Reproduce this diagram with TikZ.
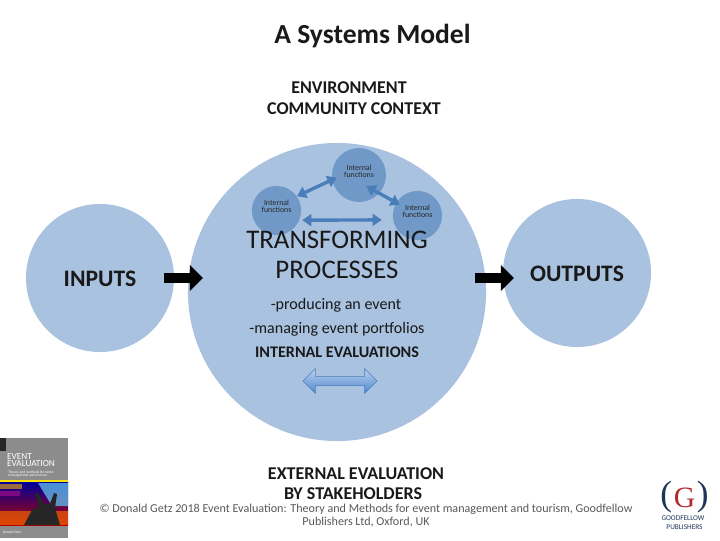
\documentclass[tikz,border=0pt]{standalone}
\usepackage{fontspec}
\setmainfont{Carlito}
\newfontfamily\logofont{Liberation Serif}
\usetikzlibrary{arrows.meta}
\usetikzlibrary{shapes.arrows}
\definecolor{circblue}{HTML}{A9C2E0}
\definecolor{funcblue}{HTML}{7199C7}
\definecolor{linkblue}{HTML}{4A7EBB}
\definecolor{arrowlow}{HTML}{4F86D0}
\definecolor{arrowtop}{HTML}{BCD2F0}
\definecolor{txtgrey}{HTML}{595959}
\definecolor{navy}{HTML}{1F3558}
\definecolor{logored}{HTML}{B5262E}
\newcommand{\fs}[1]{\fontsize{#1}{#1}\selectfont}
\tikzset{
    bigcirc/.style={circle, fill=circblue, inner sep=0},
    funcirc/.style={circle, fill=funcblue, inner sep=0, minimum size=1.23cm, align=center, font=\fs{5.6}, text=black!85, text height=4.5pt, text depth=1pt},
    flow/.style={line width=7.8pt, black, -{Triangle[length=9.4pt, width=18pt, inset=0pt]}},
    link/.style={line width=2.4pt, linkblue, {Triangle[length=6.5pt, width=8.5pt]}-{Triangle[length=6.5pt, width=8.5pt]}},
    lbl/.style={inner sep=0, text=black!90, align=center},
    head/.style={lbl, font=\bfseries\fs{12.8}},
    foot/.style={inner sep=0, text=txtgrey, font=\fs{8.6}}
}
\begin{document}
\begin{tikzpicture}[x=0.025cm, y=-0.025cm]
    \useasboundingbox (0,0) rectangle (720,540);
    % circles
    \node[bigcirc, minimum size=3.7cm] (inputs) at (100,278) {};
    \node[bigcirc, minimum size=7.45cm] (process) at (337,292) {};
    \node[bigcirc, minimum size=3.7cm] (outputs) at (577,273) {};
    \node[funcirc, minimum size=1.35cm] (fntop) at (359,175) {Internal\\[-.5pt]functions};
    \node[funcirc] (fnleft) at (276.5,210.5) {Internal\\[-.5pt]functions};
    \node[funcirc] (fnright) at (417.5,215.5) {Internal\\[-.5pt]functions};
    % links between the functions
    \draw[link, shorten >=-3.5pt] (fnleft.35) -- (fntop.190);
    \draw[link, shorten <=-10.5pt, shorten >=-2.9pt] (fntop.-42) -- (fnright.149);
    \draw[link, shorten <=2pt, shorten >=8pt] (fnleft.-23) -- (fnright.190);
    % text
    \node[lbl, font=\bfseries\fs{19.6}] (title) at (372.5,36) {A Systems Model};
    \node[head] (env) at (349,88) {ENVIRONMENT};
    \node[head] (comm) at (354,109) {COMMUNITY CONTEXT};
    \node[lbl, font=\bfseries\fs{16.8}] at (100,279) (intxt) {INPUTS};
    \node[lbl, font=\bfseries\fs{16.8}] at (577,274) (outtxt) {OUTPUTS};
    \node[lbl, font=\fs{19.1}] (procs) at (337,255) {TRANSFORMING\\[2.2pt]PROCESSES};
    \node[lbl, font=\fs{11.4}] (prod) at (336,305) {-producing an event};
    \node[lbl, font=\fs{11.4}] (manag) at (337,329) {-managing event portfolios};
    \node[lbl, font=\bfseries\fs{11.5}] (inteval) at (337,352) {INTERNAL EVALUATIONS};
    \node[head] (exteval) at (356,473.5) {EXTERNAL EVALUATION};
    \node[head] (stake) at (353,494) {BY STAKEHOLDERS};
    \node[foot] (foota) at (366,509) {© Donald Getz 2018 Event Evaluation: Theory and Methods for event management and tourism,  Goodfellow};
    \node[foot] (footb) at (366,522.5) {Publishers Ltd, Oxford, UK};
    % block arrows
    \coordinate (ina) at (164,278);
    \coordinate (inb) at (203,278);
    \coordinate (outa) at (475,278);
    \coordinate (outb) at (514,278);
    \draw[flow] (ina) -- (inb);
    \draw[flow] (outa) -- (outb);
    \node[double arrow, minimum height=1.85cm, double arrow head extend=.19cm, inner sep=0,
        draw=linkblue, top color=arrowtop, bottom color=arrowlow, line width=.4pt] (evalarrow) at (340,381) {\rule{0pt}{.22cm}};
    % book cover
    \fill[black!45] (0,438) rectangle (68,538);
    \fill[black!85] (0,438) rectangle (6,451);
    \fill[yellow!85!orange] (0,480) rectangle (68,482);
    \shade[top color=blue!60!black, bottom color=red!70!black] (0,482) rectangle (68,525);
    \fill[yellow!70!red, opacity=.6] (0,484) rectangle (22,489);
    \fill[magenta!70!blue, opacity=.6] (0,491) rectangle (20,496);
    \fill[cyan!60, opacity=.7] (38,483) -- (68,483) -- (68,506) -- (52,506) -- cycle;
    \fill[orange!90!red, opacity=.6] (0,511) rectangle (68,525);
    \fill[black!85] (24,525) -- (32,510) -- (39,507) -- (35,494) -- (38,493) -- (44,504) -- (50,504) -- (54,493) -- (57,494) -- (55,508) -- (60,525) -- cycle;
    \node[inner sep=0, text=white, align=left, font=\fs{6.6}] (booktitle) at (31,460) {EVENT\\[-1pt]EVALUATION};
    \node[inner sep=0, text=white, align=left, font=\fs{2.6}] (booksub) at (31,474.5) {Theory and methods for event\\[-.5pt]management and tourism};
    \node[inner sep=0, text=white, font=\fs{2.6}] (bookauth) at (12,532) {Donald Getz};
    % logo
    \node[inner sep=0, text=navy, font=\logofont\fs{25}] (logob) at (684.5,497) {(\hspace{.62cm})};
    \node[inner sep=0, text=logored, font=\logofont\fs{21}] (logog) at (684.5,498) {G};
    \node[inner sep=0, text=navy, font=\fs{5.2}] (logoc) at (683,518) {GOODFELLOW};
    \node[inner sep=0, text=navy, font=\fs{5.2}] (logod) at (684.5,527) {PUBLISHERS};
\end{tikzpicture}
\end{document}
